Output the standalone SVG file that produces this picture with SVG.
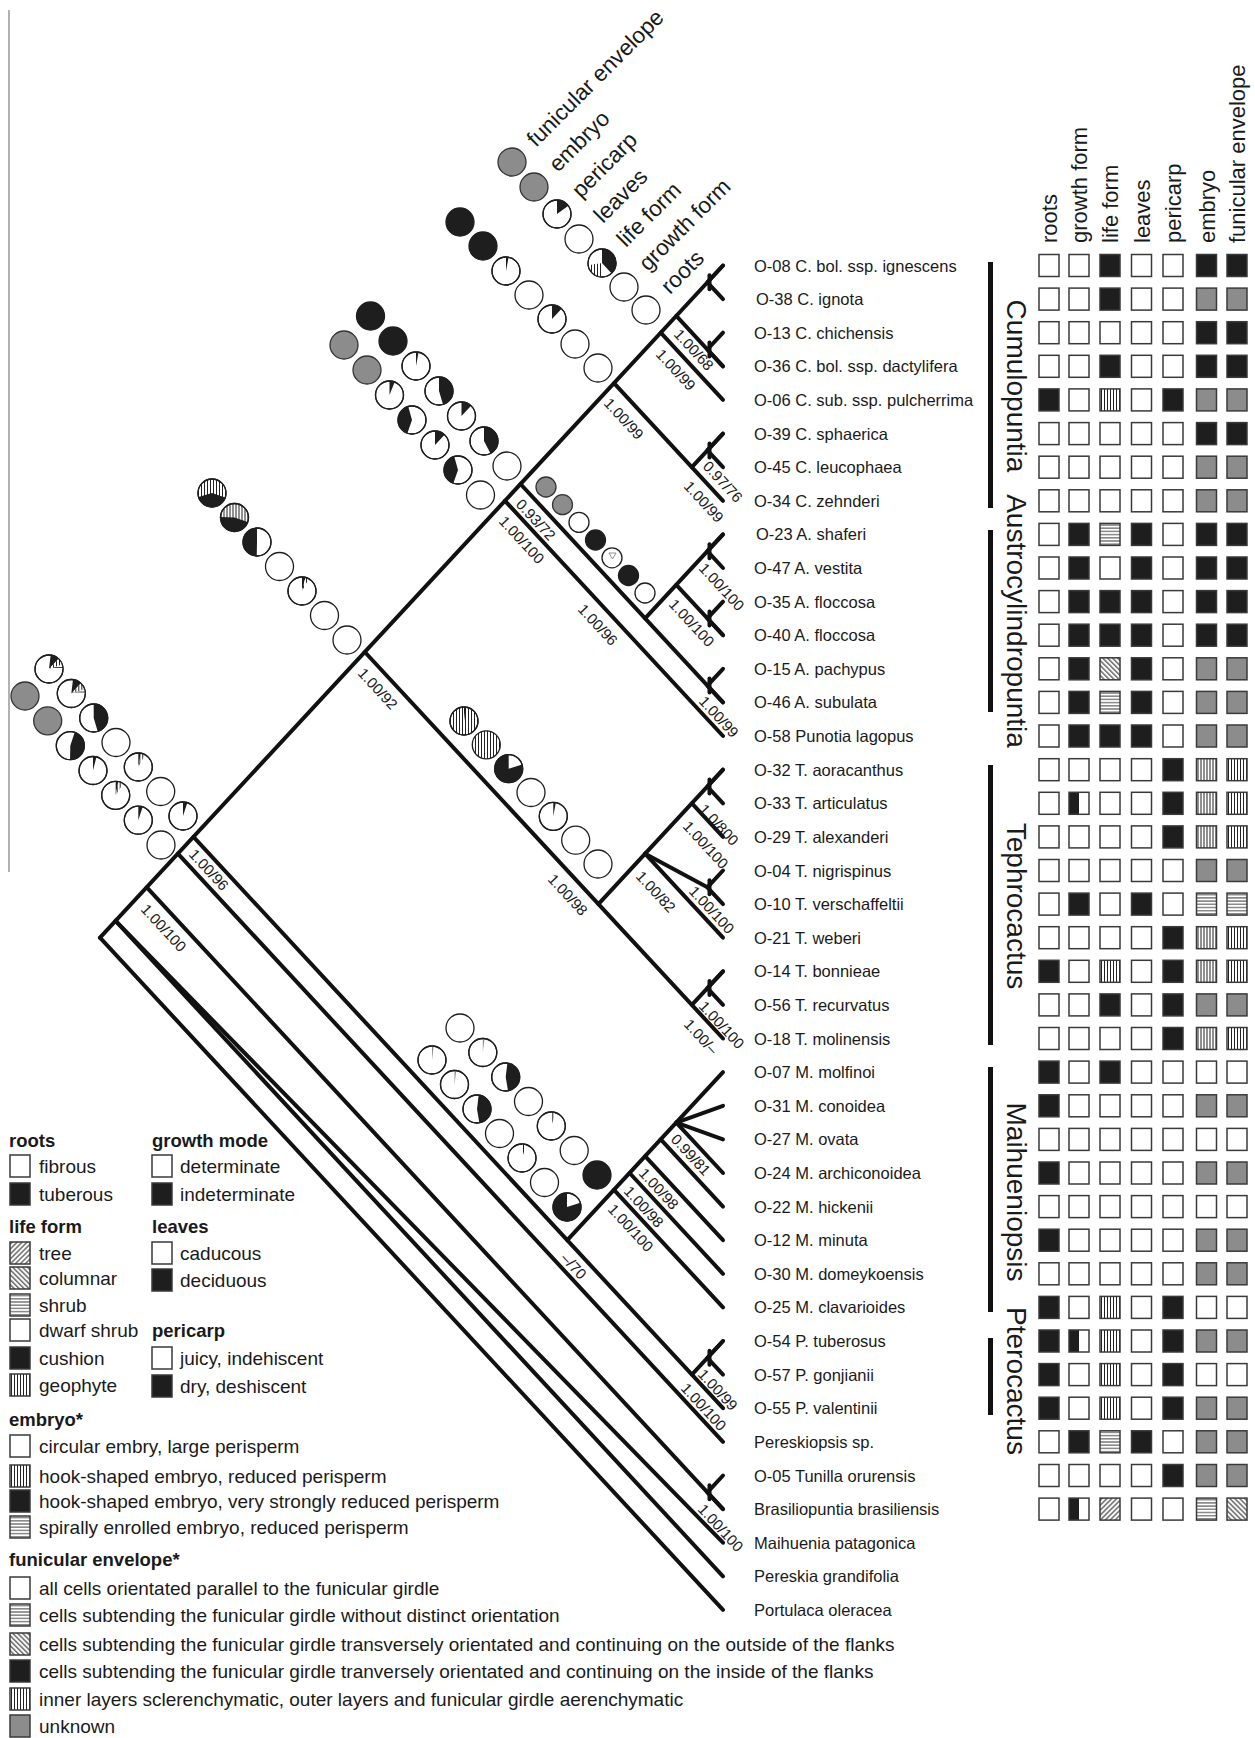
<svg xmlns="http://www.w3.org/2000/svg" xmlns:xlink="http://www.w3.org/1999/xlink" width="1255" height="1738" viewBox="0 0 1255 1738">
<style>
text{font-family:"Liberation Sans",Arial,sans-serif;fill:#1a1a1a}
.tl{font-size:16.5px}
.sl{font-size:15px}
.hd{font-size:22px}
.cl{font-size:22.5px}
.cn{font-size:28px}
.lg{font-size:19px}
.lb{font-size:18.5px;font-weight:bold}
.br{stroke:#111;stroke-width:4;fill:none;stroke-linecap:round;stroke-linejoin:round}
.bar{stroke:#111;stroke-width:5}
.o{fill:none;stroke:#1e1e1e;stroke-width:1.3}
.cw{fill:#fff;stroke:#1e1e1e;stroke-width:1.3}
.cb{fill:#1e1e1e;stroke:#1e1e1e;stroke-width:1.3}
.cg{fill:#8c8c8c;stroke:#333;stroke-width:1.3}
.cv{fill:url(#pv);stroke:#1e1e1e;stroke-width:1.3}
.k{fill:none;stroke:#1e1e1e;stroke-width:14}
.kv{fill:none;stroke:url(#pvr);stroke-width:14}
.kh{fill:none;stroke:url(#phr);stroke-width:14}
.kg{fill:none;stroke:#8c8c8c;stroke-width:14}
</style>
<defs>
<pattern id="pv" width="3" height="3" patternUnits="userSpaceOnUse"><rect width="3" height="3" fill="#fff"/><rect x="1" width="1" height="3" fill="#222"/></pattern>
<pattern id="ph" width="3" height="3.2" patternUnits="userSpaceOnUse"><rect width="3" height="3.2" fill="#fff"/><rect y="1.1" width="3" height="1" fill="#444"/></pattern>
<pattern id="pd" width="3.5" height="3.5" patternUnits="userSpaceOnUse" patternTransform="rotate(-45)"><rect width="3.5" height="3.5" fill="#fff"/><rect x="1.2" width="1" height="3.5" fill="#222"/></pattern>
<pattern id="pf" width="3.5" height="3.5" patternUnits="userSpaceOnUse" patternTransform="rotate(45)"><rect width="3.5" height="3.5" fill="#fff"/><rect x="1.2" width="1" height="3.5" fill="#222"/></pattern>
<pattern id="pvr" width="3" height="3" patternUnits="userSpaceOnUse"><rect width="3" height="3" fill="#fff"/><rect y="1" width="3" height="1" fill="#222"/></pattern>
<pattern id="phr" width="3" height="3" patternUnits="userSpaceOnUse"><rect width="3" height="3" fill="#fff"/><rect x="1" width="1" height="3" fill="#444"/></pattern>
<rect id="qW" width="20" height="22" fill="#fff" stroke="#3a3a3a" stroke-width="1.5"/>
<rect id="qB" width="20" height="22" fill="#1e1e1e" stroke="#3a3a3a" stroke-width="1.5"/>
<rect id="qG" width="20" height="22" fill="#8c8c8c" stroke="#3a3a3a" stroke-width="1.5"/>
<rect id="qV" width="20" height="22" fill="url(#pv)" stroke="#3a3a3a" stroke-width="1.5"/>
<rect id="qH" width="20" height="22" fill="url(#ph)" stroke="#3a3a3a" stroke-width="1.5"/>
<rect id="qD" width="20" height="22" fill="url(#pd)" stroke="#3a3a3a" stroke-width="1.5"/>
<rect id="qF" width="20" height="22" fill="url(#pf)" stroke="#3a3a3a" stroke-width="1.5"/>
<g id="qS"><rect width="20" height="22" fill="#fff"/><rect width="10" height="22" fill="#1e1e1e"/><rect width="20" height="22" fill="none" stroke="#3a3a3a" stroke-width="1.5"/></g>
</defs>
<rect width="1255" height="1738" fill="#fff"/>
<line x1="9" y1="10" x2="9" y2="872" stroke="#999" stroke-width="1.5"/>

<g id="connectors" class="br">
<line x1="100" y1="937.7" x2="723" y2="265.5"/>
<line x1="100" y1="937.7" x2="723" y2="1609.9"/>
<line x1="115.6" y1="920.9" x2="723" y2="1576.3"/>
<line x1="115.6" y1="920.9" x2="723" y2="1542.7"/>
<line x1="146.8" y1="887.3" x2="723" y2="1509.1"/>
<line x1="177.9" y1="853.7" x2="723" y2="1441.8"/>
<line x1="193.5" y1="836.9" x2="723" y2="1408.2"/>
<line x1="364.8" y1="652" x2="723" y2="1038.5"/>
<line x1="505" y1="500.8" x2="723" y2="736"/>
<line x1="520.5" y1="484" x2="723" y2="702.4"/>
<line x1="614" y1="383.2" x2="723" y2="500.8"/>
<line x1="660.7" y1="332.7" x2="723" y2="399.9"/>
<line x1="676.3" y1="315.9" x2="723" y2="366.3"/>
<line x1="691.9" y1="467.2" x2="723" y2="433.6"/>
<line x1="645.1" y1="618.4" x2="723" y2="534.4"/>
<line x1="676.3" y1="584.8" x2="723" y2="635.2"/>
<line x1="598.4" y1="904.1" x2="723" y2="769.7"/>
<line x1="645.1" y1="853.7" x2="723" y2="937.7"/>
<line x1="645.1" y1="853.7" x2="707.4" y2="887.3"/>
<line x1="691.9" y1="803.3" x2="723" y2="836.9"/>
<line x1="691.9" y1="1004.9" x2="723" y2="971.3"/>
<line x1="567.3" y1="1240.2" x2="723" y2="1072.1"/>
<line x1="614" y1="1189.8" x2="723" y2="1307.4"/>
<line x1="629.6" y1="1173" x2="723" y2="1273.8"/>
<line x1="645.1" y1="1156.2" x2="723" y2="1240.2"/>
<line x1="660.7" y1="1139.4" x2="723" y2="1206.6"/>
<line x1="676.3" y1="1122.6" x2="723" y2="1173"/>
<line x1="676.3" y1="1122.6" x2="723" y2="1105.8"/>
<line x1="676.3" y1="1122.6" x2="723" y2="1139.4"/>
<line x1="691.9" y1="1374.6" x2="723" y2="1341"/>
<polyline points="723,265.5 707.4,282.3 723,299.1"/><line x1="709.5" y1="275.3" x2="709.5" y2="289.3"/>
<polyline points="723,332.7 707.4,349.5 723,366.3"/><line x1="709.5" y1="342.5" x2="709.5" y2="356.5"/>
<polyline points="723,433.6 707.4,450.4 723,467.2"/><line x1="709.5" y1="443.4" x2="709.5" y2="457.4"/>
<polyline points="723,534.4 707.4,551.2 723,568"/><line x1="709.5" y1="544.2" x2="709.5" y2="558.2"/>
<polyline points="723,601.6 707.4,618.4 723,635.2"/><line x1="709.5" y1="611.4" x2="709.5" y2="625.4"/>
<polyline points="723,668.8 707.4,685.6 723,702.4"/><line x1="709.5" y1="678.6" x2="709.5" y2="692.6"/>
<polyline points="723,769.7 707.4,786.5 723,803.3"/><line x1="709.5" y1="779.5" x2="709.5" y2="793.5"/>
<polyline points="723,870.5 707.4,887.3 723,904.1"/><line x1="709.5" y1="880.3" x2="709.5" y2="894.3"/>
<polyline points="723,971.3 707.4,988.1 723,1004.9"/><line x1="709.5" y1="981.1" x2="709.5" y2="995.1"/>
<polyline points="723,1341 707.4,1357.8 723,1374.6"/><line x1="709.5" y1="1350.8" x2="709.5" y2="1364.8"/>
<polyline points="723,1475.5 707.4,1492.3 723,1509.1"/><line x1="709.5" y1="1485.3" x2="709.5" y2="1499.3"/>
</g>

<g id="support-labels" class="sl">
<text transform="translate(673 335) rotate(47.2)">1.00/68</text>
<text transform="translate(655 355) rotate(47.2)">1.00/99</text>
<text transform="translate(603 404) rotate(47.2)">1.00/99</text>
<text transform="translate(702 467) rotate(47.2)">0.97/76</text>
<text transform="translate(683 487) rotate(47.2)">1.00/99</text>
<text transform="translate(515 505) rotate(47.2)">0.93/72</text>
<text transform="translate(498 522) rotate(47.2)">1.00/100</text>
<text transform="translate(577 610) rotate(47.2)">1.00/96</text>
<text transform="translate(698 569) rotate(47.2)">1.00/100</text>
<text transform="translate(668 605) rotate(47.2)">1.00/100</text>
<text transform="translate(698 702) rotate(47.2)">1.00/99</text>
<text transform="translate(357 674) rotate(47.2)">1.00/92</text>
<text transform="translate(698 810) rotate(47.2)">1.0/800</text>
<text transform="translate(682 827) rotate(47.2)">1.00/100</text>
<text transform="translate(547 880) rotate(47.2)">1.00/98</text>
<text transform="translate(635 877) rotate(47.2)">1.00/82</text>
<text transform="translate(688 892) rotate(47.2)">1.00/100</text>
<text transform="translate(698 1007) rotate(47.2)">1.00/100</text>
<text transform="translate(683 1025) rotate(47.2)">1.00/–</text>
<text transform="translate(670 1140) rotate(47.2)">0.99/81</text>
<text transform="translate(638 1174) rotate(47.2)">1.00/98</text>
<text transform="translate(623 1192) rotate(47.2)">1.00/98</text>
<text transform="translate(607 1210) rotate(47.2)">1.00/100</text>
<text transform="translate(560 1259) rotate(47.2)">–/70</text>
<text transform="translate(697 1375) rotate(47.2)">1.00/99</text>
<text transform="translate(680 1389) rotate(47.2)">1.00/100</text>
<text transform="translate(697 1510) rotate(47.2)">1.00/100</text>
<text transform="translate(188 855) rotate(47.2)">1.00/96</text>
<text transform="translate(140 910) rotate(47.2)">1.00/100</text>
</g>

<g id="char-labels" class="cl">
<text transform="translate(536 148) rotate(-45)">funicular envelope</text>
<text transform="translate(558 173) rotate(-45)">embryo</text>
<text transform="translate(581 199) rotate(-45)">pericarp</text>
<text transform="translate(603 224) rotate(-45)">leaves</text>
<text transform="translate(626 248) rotate(-45)">life form</text>
<text transform="translate(648 272) rotate(-45)">growth form</text>
<text transform="translate(670 295) rotate(-45)">roots</text>
</g>

<g id="pies-g1">
<circle cx="512" cy="162" r="14" class="cg"/>
<circle cx="534" cy="187" r="14" class="cg"/>
<g transform="translate(557 214)"><circle r="14" class="cw"/><g transform="rotate(-90)"><circle r="7" class="k" stroke-dasharray="6.6 99"/></g><circle r="14" class="o"/></g>
<circle cx="579" cy="239" r="14" class="cw"/>
<g transform="translate(602 263)"><circle r="14" class="cw"/><g transform="rotate(-90)"><circle r="7" class="k" stroke-dasharray="16.71 99"/><circle r="7" class="kv" stroke-dasharray="0 21.99 9.68 99"/></g><circle r="14" class="o"/></g>
<circle cx="624" cy="287" r="14" class="cw"/>
<circle cx="646" cy="310" r="14" class="cw"/>
</g>

<g id="pies-g2">
<circle cx="460" cy="222" r="14" class="cb"/>
<circle cx="483" cy="246" r="14" class="cb"/>
<g transform="translate(506 271)"><circle r="14" class="cw"/><g transform="rotate(-90)"><circle r="7" class="k" stroke-dasharray="1.32 99"/></g><circle r="14" class="o"/></g>
<circle cx="529" cy="295" r="14" class="cw"/>
<g transform="translate(552 319)"><circle r="14" class="cw"/><g transform="rotate(-90)"><circle r="7" class="k" stroke-dasharray="5.28 99"/></g><circle r="14" class="o"/></g>
<circle cx="575" cy="344" r="14" class="cw"/>
<circle cx="598" cy="368" r="14" class="cw"/>
</g>

<g id="pies-g3">
<circle cx="370.5" cy="316" r="14" class="cb"/>
<circle cx="393" cy="341" r="14" class="cb"/>
<g transform="translate(416 366)"><circle r="14" class="cw"/><g transform="rotate(-90)"><circle r="7" class="k" stroke-dasharray="1.32 99"/></g><circle r="14" class="o"/></g>
<g transform="translate(439 391)"><circle r="14" class="cw"/><g transform="rotate(-90)"><circle r="7" class="k" stroke-dasharray="19.79 99"/></g><circle r="14" class="o"/></g>
<g transform="translate(461.5 416)"><circle r="14" class="cw"/><g transform="rotate(-90)"><circle r="7" class="k" stroke-dasharray="5.28 99"/></g><circle r="14" class="o"/></g>
<g transform="translate(484 441)"><circle r="14" class="cw"/><g transform="rotate(-90)"><circle r="7" class="k" stroke-dasharray="18.47 99"/></g><circle r="14" class="o"/></g>
<circle cx="507" cy="466" r="14" class="cw"/>
<circle cx="344" cy="345" r="14" class="cg"/>
<circle cx="367" cy="370" r="14" class="cg"/>
<g transform="translate(389.5 395)"><circle r="14" class="cw"/><g transform="rotate(-90)"><circle r="7" class="k" stroke-dasharray="2.64 99"/></g><circle r="14" class="o"/></g>
<g transform="translate(412 420)"><circle r="14" class="cw"/><g transform="rotate(-90)"><circle r="7" class="k" stroke-dasharray="0 24.19 17.59 99"/></g><circle r="14" class="o"/></g>
<g transform="translate(435 445)"><circle r="14" class="cw"/><g transform="rotate(-90)"><circle r="7" class="k" stroke-dasharray="5.28 99"/></g><circle r="14" class="o"/></g>
<g transform="translate(458 470)"><circle r="14" class="cw"/><g transform="rotate(-90)"><circle r="7" class="k" stroke-dasharray="0 24.19 17.59 99"/></g><circle r="14" class="o"/></g>
<circle cx="480.5" cy="495" r="14" class="cw"/>
</g>

<g id="pies-g4">
<circle cx="546" cy="487" r="10" class="cg"/>
<circle cx="562.5" cy="504.7" r="10" class="cg"/>
<circle cx="579" cy="522.4" r="10" class="cw"/>
<circle cx="595.5" cy="540" r="10" class="cb"/>
<circle cx="612" cy="557.8" r="10" class="cw"/>
<path d="M609,553 L616,553 L612.5,559 Z" fill="none" stroke="#777" stroke-width="0.8"/>
<circle cx="628.5" cy="575.5" r="10" class="cb"/>
<circle cx="645" cy="593" r="10" class="cw"/>
</g>

<g id="pies-g5">
<g transform="translate(212 493)"><circle r="14" class="cv"/><g transform="rotate(-90)"><circle r="7" class="k" stroke-dasharray="0 13.19 17.59 99"/></g><circle r="14" class="o"/></g>
<g transform="translate(234.5 517.5)"><circle r="14" class="cv"/><g transform="rotate(-90)"><circle r="7" class="k" stroke-dasharray="0 13.19 19.79 99"/></g><circle r="14" class="o"/></g>
<g transform="translate(257 542)"><circle r="14" class="cw"/><g transform="rotate(-90)"><circle r="7" class="k" stroke-dasharray="0 21.99 21.99 99"/></g><circle r="14" class="o"/></g>
<circle cx="279.5" cy="566.5" r="14" class="cw"/>
<g transform="translate(302 591)"><circle r="14" class="cw"/><g transform="rotate(-90)"><circle r="7" class="k" stroke-dasharray="1.76 99"/><circle r="7" class="kv" stroke-dasharray="0 1.76 1.76 99"/></g><circle r="14" class="o"/></g>
<circle cx="324.5" cy="615.5" r="14" class="cw"/>
<circle cx="347" cy="640" r="14" class="cw"/>
</g>

<g id="pies-g6">
<g transform="translate(49 669)"><circle r="14" class="cw"/><g transform="rotate(-90)"><circle r="7" class="k" stroke-dasharray="0 0.88 4.4 99"/><circle r="7" class="kv" stroke-dasharray="0 5.28 3.52 99"/><circle r="7" class="kh" stroke-dasharray="0 8.8 2.2 99"/></g><circle r="14" class="o"/></g>
<g transform="translate(71.3 693.5)"><circle r="14" class="cw"/><g transform="rotate(-90)"><circle r="7" class="k" stroke-dasharray="0 0.88 4.4 99"/><circle r="7" class="kv" stroke-dasharray="0 5.28 3.52 99"/><circle r="7" class="kh" stroke-dasharray="0 8.8 2.2 99"/></g><circle r="14" class="o"/></g>
<g transform="translate(93.7 718)"><circle r="14" class="cw"/><g transform="rotate(-90)"><circle r="7" class="k" stroke-dasharray="19.79 99"/></g><circle r="14" class="o"/></g>
<circle cx="116" cy="742.5" r="14" class="cw"/>
<g transform="translate(138.3 767)"><circle r="14" class="cw"/><g transform="rotate(-90)"><circle r="7" class="k" stroke-dasharray="1.32 99"/><circle r="7" class="kv" stroke-dasharray="0 1.32 2.2 99"/></g><circle r="14" class="o"/></g>
<circle cx="160.7" cy="791.5" r="14" class="cw"/>
<g transform="translate(183 816)"><circle r="14" class="cw"/><g transform="rotate(-90)"><circle r="7" class="k" stroke-dasharray="2.2 99"/></g><circle r="14" class="o"/></g>
<circle cx="25" cy="696" r="14" class="cg"/>
<circle cx="47.7" cy="720.8" r="14" class="cg"/>
<g transform="translate(70.3 745.7)"><circle r="14" class="cw"/><g transform="rotate(-90)"><circle r="7" class="k" stroke-dasharray="0 2.2 19.79 99"/></g><circle r="14" class="o"/></g>
<g transform="translate(93 770.5)"><circle r="14" class="cw"/><g transform="rotate(-90)"><circle r="7" class="k" stroke-dasharray="1.76 99"/></g><circle r="14" class="o"/></g>
<g transform="translate(115.7 795.3)"><circle r="14" class="cw"/><g transform="rotate(-90)"><circle r="7" class="k" stroke-dasharray="1.32 99"/><circle r="7" class="kv" stroke-dasharray="0 1.32 2.64 99"/></g><circle r="14" class="o"/></g>
<g transform="translate(138.3 820.2)"><circle r="14" class="cw"/><g transform="rotate(-90)"><circle r="7" class="k" stroke-dasharray="2.2 99"/></g><circle r="14" class="o"/></g>
<circle cx="161" cy="845" r="14" class="cw"/>
</g>

<g id="pies-g7">
<g transform="translate(464 721)"><circle r="14" class="cv"/><g transform="rotate(-90)"><circle r="7" class="k" stroke-dasharray="0.88 99"/></g><circle r="14" class="o"/></g>
<circle cx="486.3" cy="744.8" r="14" class="cv"/>
<g transform="translate(508.7 768.7)"><circle r="14" class="cw"/><g transform="rotate(-90)"><circle r="7" class="k" stroke-dasharray="0 8.8 35.18 99"/></g><circle r="14" class="o"/></g>
<circle cx="531" cy="792.5" r="14" class="cw"/>
<g transform="translate(553.3 816.3)"><circle r="14" class="cw"/><g transform="rotate(-90)"><circle r="7" class="k" stroke-dasharray="1.32 99"/></g><circle r="14" class="o"/></g>
<circle cx="575.7" cy="840.2" r="14" class="cw"/>
<circle cx="598" cy="864" r="14" class="cw"/>
</g>

<g id="pies-g8">
<circle cx="460" cy="1028" r="14" class="cw"/>
<g transform="translate(482.8 1052.5)"><circle r="14" class="cw"/><g transform="rotate(-90)"><circle r="7" class="kg" stroke-dasharray="0.88 99"/></g><circle r="14" class="o"/></g>
<g transform="translate(505.7 1077)"><circle r="14" class="cw"/><g transform="rotate(-90)"><circle r="7" class="k" stroke-dasharray="0 0.88 19.79 99"/></g><circle r="14" class="o"/></g>
<circle cx="528.5" cy="1101.5" r="14" class="cw"/>
<g transform="translate(551.3 1126)"><circle r="14" class="cw"/><g transform="rotate(-90)"><circle r="7" class="kv" stroke-dasharray="2.2 99"/></g><circle r="14" class="o"/></g>
<circle cx="574.2" cy="1150.5" r="14" class="cw"/>
<circle cx="597" cy="1175" r="14" class="cb"/>
<g transform="translate(432 1060)"><circle r="14" class="cw"/><g transform="rotate(-90)"><circle r="7" class="kg" stroke-dasharray="0.88 99"/></g><circle r="14" class="o"/></g>
<g transform="translate(454.5 1084.5)"><circle r="14" class="cw"/><g transform="rotate(-90)"><circle r="7" class="kg" stroke-dasharray="0.88 99"/></g><circle r="14" class="o"/></g>
<g transform="translate(477 1109)"><circle r="14" class="cw"/><g transform="rotate(-90)"><circle r="7" class="k" stroke-dasharray="0 0.88 19.79 99"/></g><circle r="14" class="o"/></g>
<circle cx="499.5" cy="1133.5" r="14" class="cw"/>
<g transform="translate(522 1158)"><circle r="14" class="cw"/><g transform="rotate(-90)"><circle r="7" class="kv" stroke-dasharray="2.2 99"/></g><circle r="14" class="o"/></g>
<circle cx="544.5" cy="1182.5" r="14" class="cw"/>
<g transform="translate(567 1207)"><circle r="14" class="cw"/><g transform="rotate(-90)"><circle r="7" class="k" stroke-dasharray="0 8.8 35.18 99"/></g><circle r="14" class="o"/></g>
</g>

<g id="tips" class="tl">
<text x="754" y="271.5">O-08 C. bol. ssp. ignescens</text>
<text x="756" y="305.1">O-38 C. ignota</text>
<text x="754" y="338.7">O-13 C. chichensis</text>
<text x="754" y="372.3">O-36 C. bol. ssp. dactylifera</text>
<text x="754" y="405.9">O-06 C. sub. ssp. pulcherrima</text>
<text x="754" y="439.6">O-39 C. sphaerica</text>
<text x="754" y="473.2">O-45 C. leucophaea</text>
<text x="754" y="506.8">O-34 C. zehnderi</text>
<text x="756" y="540.4">O-23 A. shaferi</text>
<text x="754" y="574">O-47 A. vestita</text>
<text x="754" y="607.6">O-35 A. floccosa</text>
<text x="754" y="641.2">O-40 A. floccosa</text>
<text x="754" y="674.8">O-15 A. pachypus</text>
<text x="754" y="708.4">O-46 A. subulata</text>
<text x="754" y="742">O-58 Punotia lagopus</text>
<text x="754" y="775.7">O-32 T. aoracanthus</text>
<text x="754" y="809.3">O-33 T. articulatus</text>
<text x="754" y="842.9">O-29 T. alexanderi</text>
<text x="754" y="876.5">O-04 T. nigrispinus</text>
<text x="754" y="910.1">O-10 T. verschaffeltii</text>
<text x="754" y="943.7">O-21 T. weberi</text>
<text x="754" y="977.3">O-14 T. bonnieae</text>
<text x="754" y="1010.9">O-56 T. recurvatus</text>
<text x="754" y="1044.5">O-18 T. molinensis</text>
<text x="754" y="1078.1">O-07 M. molfinoi</text>
<text x="754" y="1111.8">O-31 M. conoidea</text>
<text x="754" y="1145.4">O-27 M. ovata</text>
<text x="754" y="1179">O-24 M. archiconoidea</text>
<text x="754" y="1212.6">O-22 M. hickenii</text>
<text x="754" y="1246.2">O-12 M. minuta</text>
<text x="754" y="1279.8">O-30 M. domeykoensis</text>
<text x="754" y="1313.4">O-25 M. clavarioides</text>
<text x="754" y="1347">O-54 P. tuberosus</text>
<text x="754" y="1380.6">O-57 P. gonjianii</text>
<text x="754" y="1414.2">O-55 P. valentinii</text>
<text x="754" y="1447.8">Pereskiopsis sp.</text>
<text x="754" y="1481.5">O-05 Tunilla orurensis</text>
<text x="754" y="1515.1">Brasiliopuntia brasiliensis</text>
<text x="754" y="1548.7">Maihuenia patagonica</text>
<text x="754" y="1582.3">Pereskia grandifolia</text>
<text x="754" y="1615.9">Portulaca oleracea</text>
</g>

<g id="clades">
<line class="bar" x1="990.5" y1="262" x2="990.5" y2="508"/>
<line class="bar" x1="990.5" y1="530" x2="990.5" y2="712"/>
<line class="bar" x1="990.5" y1="765" x2="990.5" y2="1045"/>
<line class="bar" x1="990.5" y1="1067" x2="990.5" y2="1312"/>
<line class="bar" x1="990.5" y1="1338" x2="990.5" y2="1415"/>
<text class="cn" text-anchor="middle" transform="translate(1007 386) rotate(90)">Cumulopuntia</text>
<text class="cn" text-anchor="middle" transform="translate(1007 621) rotate(90)">Austrocylindropuntia</text>
<text class="cn" text-anchor="middle" transform="translate(1007 906) rotate(90)">Tephrocactus</text>
<text class="cn" text-anchor="middle" transform="translate(1007 1192) rotate(90)">Maihueniopsis</text>
<text class="cn" text-anchor="middle" transform="translate(1007 1381) rotate(90)">Pterocactus</text>
</g>

<g id="matrix-headers" class="hd">
<text transform="translate(1057 243) rotate(-90)">roots</text>
<text transform="translate(1087 243) rotate(-90)">growth form</text>
<text transform="translate(1118 243) rotate(-90)">life form</text>
<text transform="translate(1149.5 243) rotate(-90)">leaves</text>
<text transform="translate(1181 243) rotate(-90)">pericarp</text>
<text transform="translate(1214.5 243) rotate(-90)">embryo</text>
<text transform="translate(1245 243) rotate(-90)">funicular envelope</text>
</g>

<g id="matrix">
<g transform="translate(0 254.5)"><use href="#qW" x="1039"/><use href="#qW" x="1069"/><use href="#qB" x="1100"/><use href="#qW" x="1131.5"/><use href="#qW" x="1163"/><use href="#qB" x="1196.5"/><use href="#qB" x="1227"/></g>
<g transform="translate(0 288.1)"><use href="#qW" x="1039"/><use href="#qW" x="1069"/><use href="#qB" x="1100"/><use href="#qW" x="1131.5"/><use href="#qW" x="1163"/><use href="#qG" x="1196.5"/><use href="#qG" x="1227"/></g>
<g transform="translate(0 321.7)"><use href="#qW" x="1039"/><use href="#qW" x="1069"/><use href="#qW" x="1100"/><use href="#qW" x="1131.5"/><use href="#qW" x="1163"/><use href="#qB" x="1196.5"/><use href="#qB" x="1227"/></g>
<g transform="translate(0 355.3)"><use href="#qW" x="1039"/><use href="#qW" x="1069"/><use href="#qB" x="1100"/><use href="#qW" x="1131.5"/><use href="#qW" x="1163"/><use href="#qB" x="1196.5"/><use href="#qB" x="1227"/></g>
<g transform="translate(0 388.9)"><use href="#qB" x="1039"/><use href="#qW" x="1069"/><use href="#qV" x="1100"/><use href="#qW" x="1131.5"/><use href="#qB" x="1163"/><use href="#qG" x="1196.5"/><use href="#qG" x="1227"/></g>
<g transform="translate(0 422.6)"><use href="#qW" x="1039"/><use href="#qW" x="1069"/><use href="#qW" x="1100"/><use href="#qW" x="1131.5"/><use href="#qW" x="1163"/><use href="#qB" x="1196.5"/><use href="#qB" x="1227"/></g>
<g transform="translate(0 456.2)"><use href="#qW" x="1039"/><use href="#qW" x="1069"/><use href="#qW" x="1100"/><use href="#qW" x="1131.5"/><use href="#qW" x="1163"/><use href="#qG" x="1196.5"/><use href="#qG" x="1227"/></g>
<g transform="translate(0 489.8)"><use href="#qW" x="1039"/><use href="#qW" x="1069"/><use href="#qW" x="1100"/><use href="#qW" x="1131.5"/><use href="#qW" x="1163"/><use href="#qG" x="1196.5"/><use href="#qG" x="1227"/></g>
<g transform="translate(0 523.4)"><use href="#qW" x="1039"/><use href="#qB" x="1069"/><use href="#qH" x="1100"/><use href="#qB" x="1131.5"/><use href="#qW" x="1163"/><use href="#qB" x="1196.5"/><use href="#qB" x="1227"/></g>
<g transform="translate(0 557)"><use href="#qW" x="1039"/><use href="#qB" x="1069"/><use href="#qW" x="1100"/><use href="#qB" x="1131.5"/><use href="#qW" x="1163"/><use href="#qB" x="1196.5"/><use href="#qB" x="1227"/></g>
<g transform="translate(0 590.6)"><use href="#qW" x="1039"/><use href="#qB" x="1069"/><use href="#qB" x="1100"/><use href="#qB" x="1131.5"/><use href="#qW" x="1163"/><use href="#qB" x="1196.5"/><use href="#qB" x="1227"/></g>
<g transform="translate(0 624.2)"><use href="#qW" x="1039"/><use href="#qB" x="1069"/><use href="#qB" x="1100"/><use href="#qB" x="1131.5"/><use href="#qW" x="1163"/><use href="#qB" x="1196.5"/><use href="#qB" x="1227"/></g>
<g transform="translate(0 657.8)"><use href="#qW" x="1039"/><use href="#qB" x="1069"/><use href="#qD" x="1100"/><use href="#qB" x="1131.5"/><use href="#qW" x="1163"/><use href="#qG" x="1196.5"/><use href="#qG" x="1227"/></g>
<g transform="translate(0 691.4)"><use href="#qW" x="1039"/><use href="#qB" x="1069"/><use href="#qH" x="1100"/><use href="#qB" x="1131.5"/><use href="#qW" x="1163"/><use href="#qG" x="1196.5"/><use href="#qG" x="1227"/></g>
<g transform="translate(0 725)"><use href="#qW" x="1039"/><use href="#qB" x="1069"/><use href="#qB" x="1100"/><use href="#qB" x="1131.5"/><use href="#qW" x="1163"/><use href="#qG" x="1196.5"/><use href="#qG" x="1227"/></g>
<g transform="translate(0 758.7)"><use href="#qW" x="1039"/><use href="#qW" x="1069"/><use href="#qW" x="1100"/><use href="#qW" x="1131.5"/><use href="#qB" x="1163"/><use href="#qV" x="1196.5"/><use href="#qV" x="1227"/></g>
<g transform="translate(0 792.3)"><use href="#qW" x="1039"/><use href="#qS" x="1069"/><use href="#qW" x="1100"/><use href="#qW" x="1131.5"/><use href="#qB" x="1163"/><use href="#qV" x="1196.5"/><use href="#qV" x="1227"/></g>
<g transform="translate(0 825.9)"><use href="#qW" x="1039"/><use href="#qW" x="1069"/><use href="#qW" x="1100"/><use href="#qW" x="1131.5"/><use href="#qB" x="1163"/><use href="#qV" x="1196.5"/><use href="#qV" x="1227"/></g>
<g transform="translate(0 859.5)"><use href="#qW" x="1039"/><use href="#qW" x="1069"/><use href="#qW" x="1100"/><use href="#qW" x="1131.5"/><use href="#qW" x="1163"/><use href="#qG" x="1196.5"/><use href="#qG" x="1227"/></g>
<g transform="translate(0 893.1)"><use href="#qW" x="1039"/><use href="#qB" x="1069"/><use href="#qW" x="1100"/><use href="#qB" x="1131.5"/><use href="#qW" x="1163"/><use href="#qH" x="1196.5"/><use href="#qH" x="1227"/></g>
<g transform="translate(0 926.7)"><use href="#qW" x="1039"/><use href="#qW" x="1069"/><use href="#qW" x="1100"/><use href="#qW" x="1131.5"/><use href="#qB" x="1163"/><use href="#qV" x="1196.5"/><use href="#qV" x="1227"/></g>
<g transform="translate(0 960.3)"><use href="#qB" x="1039"/><use href="#qW" x="1069"/><use href="#qV" x="1100"/><use href="#qW" x="1131.5"/><use href="#qB" x="1163"/><use href="#qV" x="1196.5"/><use href="#qV" x="1227"/></g>
<g transform="translate(0 993.9)"><use href="#qW" x="1039"/><use href="#qW" x="1069"/><use href="#qB" x="1100"/><use href="#qW" x="1131.5"/><use href="#qB" x="1163"/><use href="#qG" x="1196.5"/><use href="#qG" x="1227"/></g>
<g transform="translate(0 1027.5)"><use href="#qW" x="1039"/><use href="#qW" x="1069"/><use href="#qW" x="1100"/><use href="#qW" x="1131.5"/><use href="#qB" x="1163"/><use href="#qV" x="1196.5"/><use href="#qV" x="1227"/></g>
<g transform="translate(0 1061.1)"><use href="#qB" x="1039"/><use href="#qW" x="1069"/><use href="#qB" x="1100"/><use href="#qW" x="1131.5"/><use href="#qW" x="1163"/><use href="#qW" x="1196.5"/><use href="#qW" x="1227"/></g>
<g transform="translate(0 1094.8)"><use href="#qB" x="1039"/><use href="#qW" x="1069"/><use href="#qW" x="1100"/><use href="#qW" x="1131.5"/><use href="#qW" x="1163"/><use href="#qG" x="1196.5"/><use href="#qG" x="1227"/></g>
<g transform="translate(0 1128.4)"><use href="#qW" x="1039"/><use href="#qW" x="1069"/><use href="#qW" x="1100"/><use href="#qW" x="1131.5"/><use href="#qW" x="1163"/><use href="#qW" x="1196.5"/><use href="#qW" x="1227"/></g>
<g transform="translate(0 1162)"><use href="#qB" x="1039"/><use href="#qW" x="1069"/><use href="#qW" x="1100"/><use href="#qW" x="1131.5"/><use href="#qW" x="1163"/><use href="#qG" x="1196.5"/><use href="#qG" x="1227"/></g>
<g transform="translate(0 1195.6)"><use href="#qW" x="1039"/><use href="#qW" x="1069"/><use href="#qW" x="1100"/><use href="#qW" x="1131.5"/><use href="#qW" x="1163"/><use href="#qW" x="1196.5"/><use href="#qW" x="1227"/></g>
<g transform="translate(0 1229.2)"><use href="#qB" x="1039"/><use href="#qW" x="1069"/><use href="#qW" x="1100"/><use href="#qW" x="1131.5"/><use href="#qW" x="1163"/><use href="#qG" x="1196.5"/><use href="#qG" x="1227"/></g>
<g transform="translate(0 1262.8)"><use href="#qW" x="1039"/><use href="#qW" x="1069"/><use href="#qW" x="1100"/><use href="#qW" x="1131.5"/><use href="#qW" x="1163"/><use href="#qG" x="1196.5"/><use href="#qG" x="1227"/></g>
<g transform="translate(0 1296.4)"><use href="#qB" x="1039"/><use href="#qW" x="1069"/><use href="#qV" x="1100"/><use href="#qW" x="1131.5"/><use href="#qB" x="1163"/><use href="#qW" x="1196.5"/><use href="#qW" x="1227"/></g>
<g transform="translate(0 1330)"><use href="#qB" x="1039"/><use href="#qS" x="1069"/><use href="#qV" x="1100"/><use href="#qW" x="1131.5"/><use href="#qB" x="1163"/><use href="#qG" x="1196.5"/><use href="#qG" x="1227"/></g>
<g transform="translate(0 1363.6)"><use href="#qB" x="1039"/><use href="#qW" x="1069"/><use href="#qV" x="1100"/><use href="#qW" x="1131.5"/><use href="#qB" x="1163"/><use href="#qW" x="1196.5"/><use href="#qW" x="1227"/></g>
<g transform="translate(0 1397.2)"><use href="#qB" x="1039"/><use href="#qW" x="1069"/><use href="#qV" x="1100"/><use href="#qW" x="1131.5"/><use href="#qB" x="1163"/><use href="#qG" x="1196.5"/><use href="#qG" x="1227"/></g>
<g transform="translate(0 1430.8)"><use href="#qW" x="1039"/><use href="#qB" x="1069"/><use href="#qH" x="1100"/><use href="#qB" x="1131.5"/><use href="#qW" x="1163"/><use href="#qG" x="1196.5"/><use href="#qG" x="1227"/></g>
<g transform="translate(0 1464.5)"><use href="#qW" x="1039"/><use href="#qW" x="1069"/><use href="#qW" x="1100"/><use href="#qW" x="1131.5"/><use href="#qB" x="1163"/><use href="#qG" x="1196.5"/><use href="#qG" x="1227"/></g>
<g transform="translate(0 1498.1)"><use href="#qW" x="1039"/><use href="#qS" x="1069"/><use href="#qF" x="1100"/><use href="#qW" x="1131.5"/><use href="#qW" x="1163"/><use href="#qH" x="1196.5"/><use href="#qD" x="1227"/></g>
</g>

<g id="legend">
<text class="lb" x="9" y="1146.5">roots</text>
<text class="lb" x="152" y="1146.5">growth mode</text>
<use href="#qW" x="10" y="1155"/><text class="lg" x="39" y="1172.5">fibrous</text>
<use href="#qW" x="152" y="1155"/><text class="lg" x="180" y="1172.5">determinate</text>
<use href="#qB" x="10" y="1183"/><text class="lg" x="39" y="1200.5">tuberous</text>
<use href="#qB" x="152" y="1183"/><text class="lg" x="180" y="1200.5">indeterminate</text>
<text class="lb" x="9" y="1232.5">life form</text>
<text class="lb" x="152" y="1232.5">leaves</text>
<use href="#qF" x="10" y="1242"/><text class="lg" x="39" y="1259.5">tree</text>
<use href="#qW" x="152" y="1242"/><text class="lg" x="180" y="1259.5">caducous</text>
<use href="#qD" x="10" y="1267"/><text class="lg" x="39" y="1284.5">columnar</text>
<use href="#qB" x="152" y="1269"/><text class="lg" x="180" y="1286.5">deciduous</text>
<use href="#qH" x="10" y="1294"/><text class="lg" x="39" y="1311.5">shrub</text>
<use href="#qW" x="10" y="1319"/><text class="lg" x="39" y="1336.5">dwarf shrub</text>
<text class="lb" x="152" y="1336.5">pericarp</text>
<use href="#qB" x="10" y="1347"/><text class="lg" x="39" y="1364.5">cushion</text>
<use href="#qW" x="152" y="1347"/><text class="lg" x="180" y="1364.5">juicy, indehiscent</text>
<use href="#qV" x="10" y="1374"/><text class="lg" x="39" y="1391.5">geophyte</text>
<use href="#qB" x="152" y="1375"/><text class="lg" x="180" y="1392.5">dry, deshiscent</text>
<text class="lb" x="9" y="1425.5">embryo*</text>
<use href="#qW" x="10" y="1435"/><text class="lg" x="39" y="1452.5">circular embry, large perisperm</text>
<use href="#qV" x="10" y="1465"/><text class="lg" x="39" y="1482.5">hook-shaped embryo, reduced perisperm</text>
<use href="#qB" x="10" y="1490"/><text class="lg" x="39" y="1507.5">hook-shaped embryo, very strongly reduced perisperm</text>
<use href="#qH" x="10" y="1516"/><text class="lg" x="39" y="1533.5">spirally enrolled embryo, reduced perisperm</text>
<text class="lb" x="9" y="1565.5">funicular envelope*</text>
<use href="#qW" x="10" y="1577"/><text class="lg" x="39" y="1594.5">all cells orientated parallel to the funicular girdle</text>
<use href="#qH" x="10" y="1604"/><text class="lg" x="39" y="1621.5">cells subtending the funicular girdle without distinct orientation</text>
<use href="#qD" x="10" y="1633"/><text class="lg" x="39" y="1650.5">cells subtending the funicular girdle transversely orientated and continuing on the outside of the flanks</text>
<use href="#qB" x="10" y="1660"/><text class="lg" x="39" y="1677.5">cells subtending the funicular girdle tranversely orientated and continuing on the inside of the flanks</text>
<use href="#qV" x="10" y="1688"/><text class="lg" x="39" y="1705.5">inner layers sclerenchymatic, outer layers and funicular girdle aerenchymatic</text>
<use href="#qG" x="10" y="1715"/><text class="lg" x="39" y="1732.5">unknown</text>
</g>
</svg>
